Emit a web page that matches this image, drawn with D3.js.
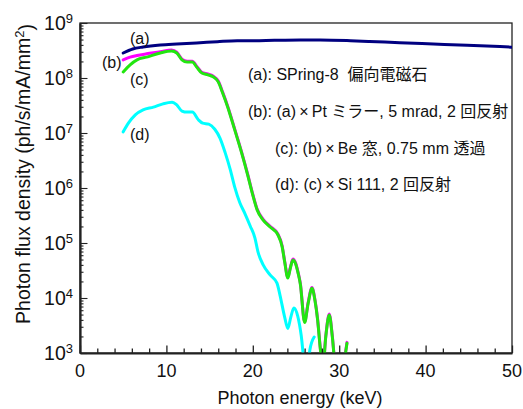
<!DOCTYPE html>
<html><head><meta charset="utf-8">
<script src="https://cdn.jsdelivr.net/npm/d3@7"></script>
<style>
body{margin:0;background:#fff}
text{font-family:"Liberation Sans",Arial,"Noto Sans CJK JP",sans-serif;fill:#111}
</style>
</head><body><svg id="c" width="523" height="409"></svg>
<script>
// ---- data ----
const energyA = [5.0, 6.1, 7.3, 9.3, 11.2, 13.5, 15.9, 18.2, 20.0, 22.5, 25.5, 27.8, 31.3, 33.5, 37.0, 40.9, 44.8, 48.6, 50.0];
const fluxA   = [2.85e8, 3.37e8, 3.66e8, 3.98e8, 4.15e8, 4.33e8, 4.57e8, 4.76e8, 4.76e8, 4.84e8, 4.9e8, 4.9e8, 4.76e8, 4.62e8, 4.37e8, 4.15e8, 3.94e8, 3.72e8, 3.63e8];

const energyBC = [5.0, 5.8, 6.6, 7.7, 9.3, 10.6, 11.2, 11.8, 12.4, 13.0, 13.5, 14.1, 14.8, 15.4, 16.0, 16.5, 17.1, 17.9, 18.7, 19.4, 20.0, 20.5, 21.2, 22.0, 22.9, 23.4, 23.7, 24.05, 24.35, 24.65, 24.95, 25.25, 25.5, 26.0, 26.4, 26.85, 27.2, 27.5, 27.8, 28.1, 28.45, 28.85, 29.2, 29.5, 29.9, 30.4, 30.9];
const fluxB = [2.14e8, 2.40e8, 2.57e8, 2.75e8, 2.99e8, 3.24e8, 2.95e8, 2.21e8, 2.02e8, 2.02e8, 1.64e8, 1.27e8, 1.18e8, 1.09e8, 8.8e7, 5.6e7, 3.05e7, 1.19e7, 4.55e6, 1.8e6, 7.7e5, 4.15e5, 2.7e5, 2.02e5, 1.46e5, 8.8e4, 4.55e4, 2.38e4, 3.62e4, 5.1e4, 4.35e4, 2.9e4, 1.86e4, 3.7e3, 8.2e3, 1.56e4, 9.2e3, 4.15e3, 1.3e3, 5.2e2, 2.07e3, 5.1e3, 2.07e3, 6.5e2, 3.3e2, 5.2e2, 1.56e3];
const fluxC = [1.29e8, 1.74e8, 2.14e8, 2.40e8, 2.85e8, 3.09e8, 2.85e8, 2.14e8, 1.95e8, 1.95e8, 1.58e8, 1.23e8, 1.14e8, 1.05e8, 8.5e7, 5.4e7, 2.95e7, 1.15e7, 4.4e6, 1.74e6, 7.4e5, 4.0e5, 2.6e5, 1.95e5, 1.41e5, 8.5e4, 4.4e4, 2.3e4, 3.5e4, 4.9e4, 4.2e4, 2.8e4, 1.8e4, 3.6e3, 7.9e3, 1.5e4, 8.9e3, 4.0e3, 1.26e3, 5.0e2, 2.0e3, 4.9e3, 2.0e3, 6.3e2, 3.2e2, 5.0e2, 1.5e3];

const energyD = [5.0, 5.6, 6.4, 7.3, 8.5, 9.6, 10.65, 11.2, 11.8, 12.4, 13.0, 13.7, 14.2, 14.9, 15.6, 16.2, 16.8, 17.4, 17.9, 18.5, 19.1, 19.7, 20.25, 20.6, 21.2, 22.0, 22.8, 23.15, 23.7, 24.05, 24.4, 24.75, 25.2, 25.6, 26.0, 26.3, 26.6, 27.1];
const fluxD   = [1.05e7, 1.51e7, 2.14e7, 2.63e7, 2.95e7, 3.39e7, 3.63e7, 3.24e7, 2.51e7, 2.40e7, 2.40e7, 1.74e7, 1.51e7, 1.45e7, 1.17e7, 8.1e6, 4.4e6, 2.14e6, 1.05e6, 5.4e5, 3.4e5, 2.04e5, 1.23e5, 6.9e4, 4.0e4, 2.63e4, 1.86e4, 1.12e4, 4.4e3, 2.8e3, 4.5e3, 6.6e3, 4.7e3, 2.1e3, 5.6e2, 4.0e2, 1.12e3, 1.95e3];

const xTickLabels = ["0", "10", "20", "30", "40", "50"];
const yDecades = [3, 4, 5, 6, 7, 8, 9];
const curveLabels = ["(a)", "(b)", "(c)", "(d)"];
const legendLines = [
  "(a): SPring-8\u00a0\u00a0偏向電磁石",
  "(b): (a)\u2009×\u2009Pt ミラー, 5 mrad, 2 回反射",
  "(c): (b)\u2009×\u2009Be 窓, 0.75 mm 透過",
  "(d): (c)\u2009×\u2009Si 111, 2 回反射"
];
const xTitle = "Photon energy (keV)";

// ---- layout ----
const svg = d3.select("#c");
const L = 80, T = 23, R = 512, B = 353;
const x = d3.scaleLinear([0, 50], [L, R]);
const y = d3.scaleLog([1e3, 1e9], [B, T]);

svg.append("defs").append("clipPath").attr("id", "clip")
  .append("rect").attr("x", L).attr("y", T).attr("width", R - L).attr("height", B - T);

// frame
svg.append("rect").attr("x", L).attr("y", T).attr("width", R - L).attr("height", B - T)
  .attr("fill", "none").attr("stroke", "#222").attr("stroke-width", 1.3);

// curves
const plot = svg.append("g").attr("clip-path", "url(#clip)");
const line = d3.line().curve(d3.curveMonotoneX).x(d => x(d[0])).y(d => y(d[1]));
const series = [
  {e: energyA, v: fluxA, c: "#000080"},
  {e: energyBC, v: fluxB, c: "#ff00ff"},
  {e: energyBC, v: fluxC, c: "#22e610"},
  {e: energyD, v: fluxD, c: "#00ffff"}
];
series.forEach(s => {
  plot.append("path").datum(d3.zip(s.e, s.v)).attr("d", line)
    .attr("fill", "none").attr("stroke", s.c).attr("stroke-width", 3)
    .attr("stroke-linejoin", "round").attr("stroke-linecap", "round");
});

// x axis
const xg = svg.append("g").attr("transform", `translate(0,${B})`)
  .call(d3.axisBottom(x).tickValues(d3.range(0, 51, 2)).tickSizeInner(-4.5).tickSizeOuter(0).tickFormat(""));
xg.select(".domain").attr("stroke", "#222").attr("stroke-width", 2.2);
xg.selectAll(".tick line").attr("stroke", "#222").attr("stroke-width", 1.3)
  .filter(d => d % 10 === 0).attr("y2", -7.5);
svg.append("g").selectAll("text").data(xTickLabels).join("text")
  .attr("x", d => x(+d)).attr("y", 377).attr("text-anchor", "middle")
  .attr("font-size", 18).text(d => d);

// y axis
const yTicks = [];
yDecades.forEach(p => { for (let k = 1; k <= 9; k++) { const v = k * Math.pow(10, p); if (v <= 1e9) yTicks.push(v); } });
const yg = svg.append("g").attr("transform", `translate(${L},0)`)
  .call(d3.axisLeft(y).tickValues(yTicks).tickSizeInner(-3.5).tickSizeOuter(0).tickFormat(""));
yg.select(".domain").attr("stroke", "#222").attr("stroke-width", 2.2);
yg.selectAll(".tick line").attr("stroke", "#222").attr("stroke-width", 1.1)
  .filter(d => Math.abs(Math.log10(d) - Math.round(Math.log10(d))) < 1e-9).attr("x2", 7.5);
const ylab = svg.append("g").selectAll("text").data(yDecades).join("text")
  .attr("x", 73).attr("y", d => y(Math.pow(10, d))).attr("dy", "0.36em")
  .attr("text-anchor", "end").attr("font-size", 19.5);
ylab.append("tspan").text("10");
ylab.append("tspan").attr("dy", "-0.55em").attr("font-size", 13).text(d => d);

// axis titles
svg.append("text").attr("x", 300).attr("y", 404).attr("text-anchor", "middle")
  .attr("font-size", 18).text(xTitle);
const yt = svg.append("text").attr("transform", "translate(30,174) rotate(-90)")
  .attr("text-anchor", "middle").attr("font-size", 19.5);
yt.append("tspan").text("Photon flux density (ph/s/mA/mm");
yt.append("tspan").attr("dy", "-0.5em").attr("font-size", 13).text("2");
yt.append("tspan").attr("dy", "0.5em").text(")");

// curve labels
const labelPos = [[130, 44], [102, 68], [130, 85], [130, 140]];
svg.append("g").selectAll("text").data(curveLabels).join("text")
  .attr("x", (d, i) => labelPos[i][0]).attr("y", (d, i) => labelPos[i][1])
  .attr("font-size", 16).text(d => d);

// legend text
const legPos = [[248, 80], [248, 117], [275, 154], [275, 190]];
svg.append("g").selectAll("text").data(legendLines).join("text")
  .attr("x", (d, i) => legPos[i][0]).attr("y", (d, i) => legPos[i][1])
  .attr("font-size", 16).text(d => d);
</script></body></html>
